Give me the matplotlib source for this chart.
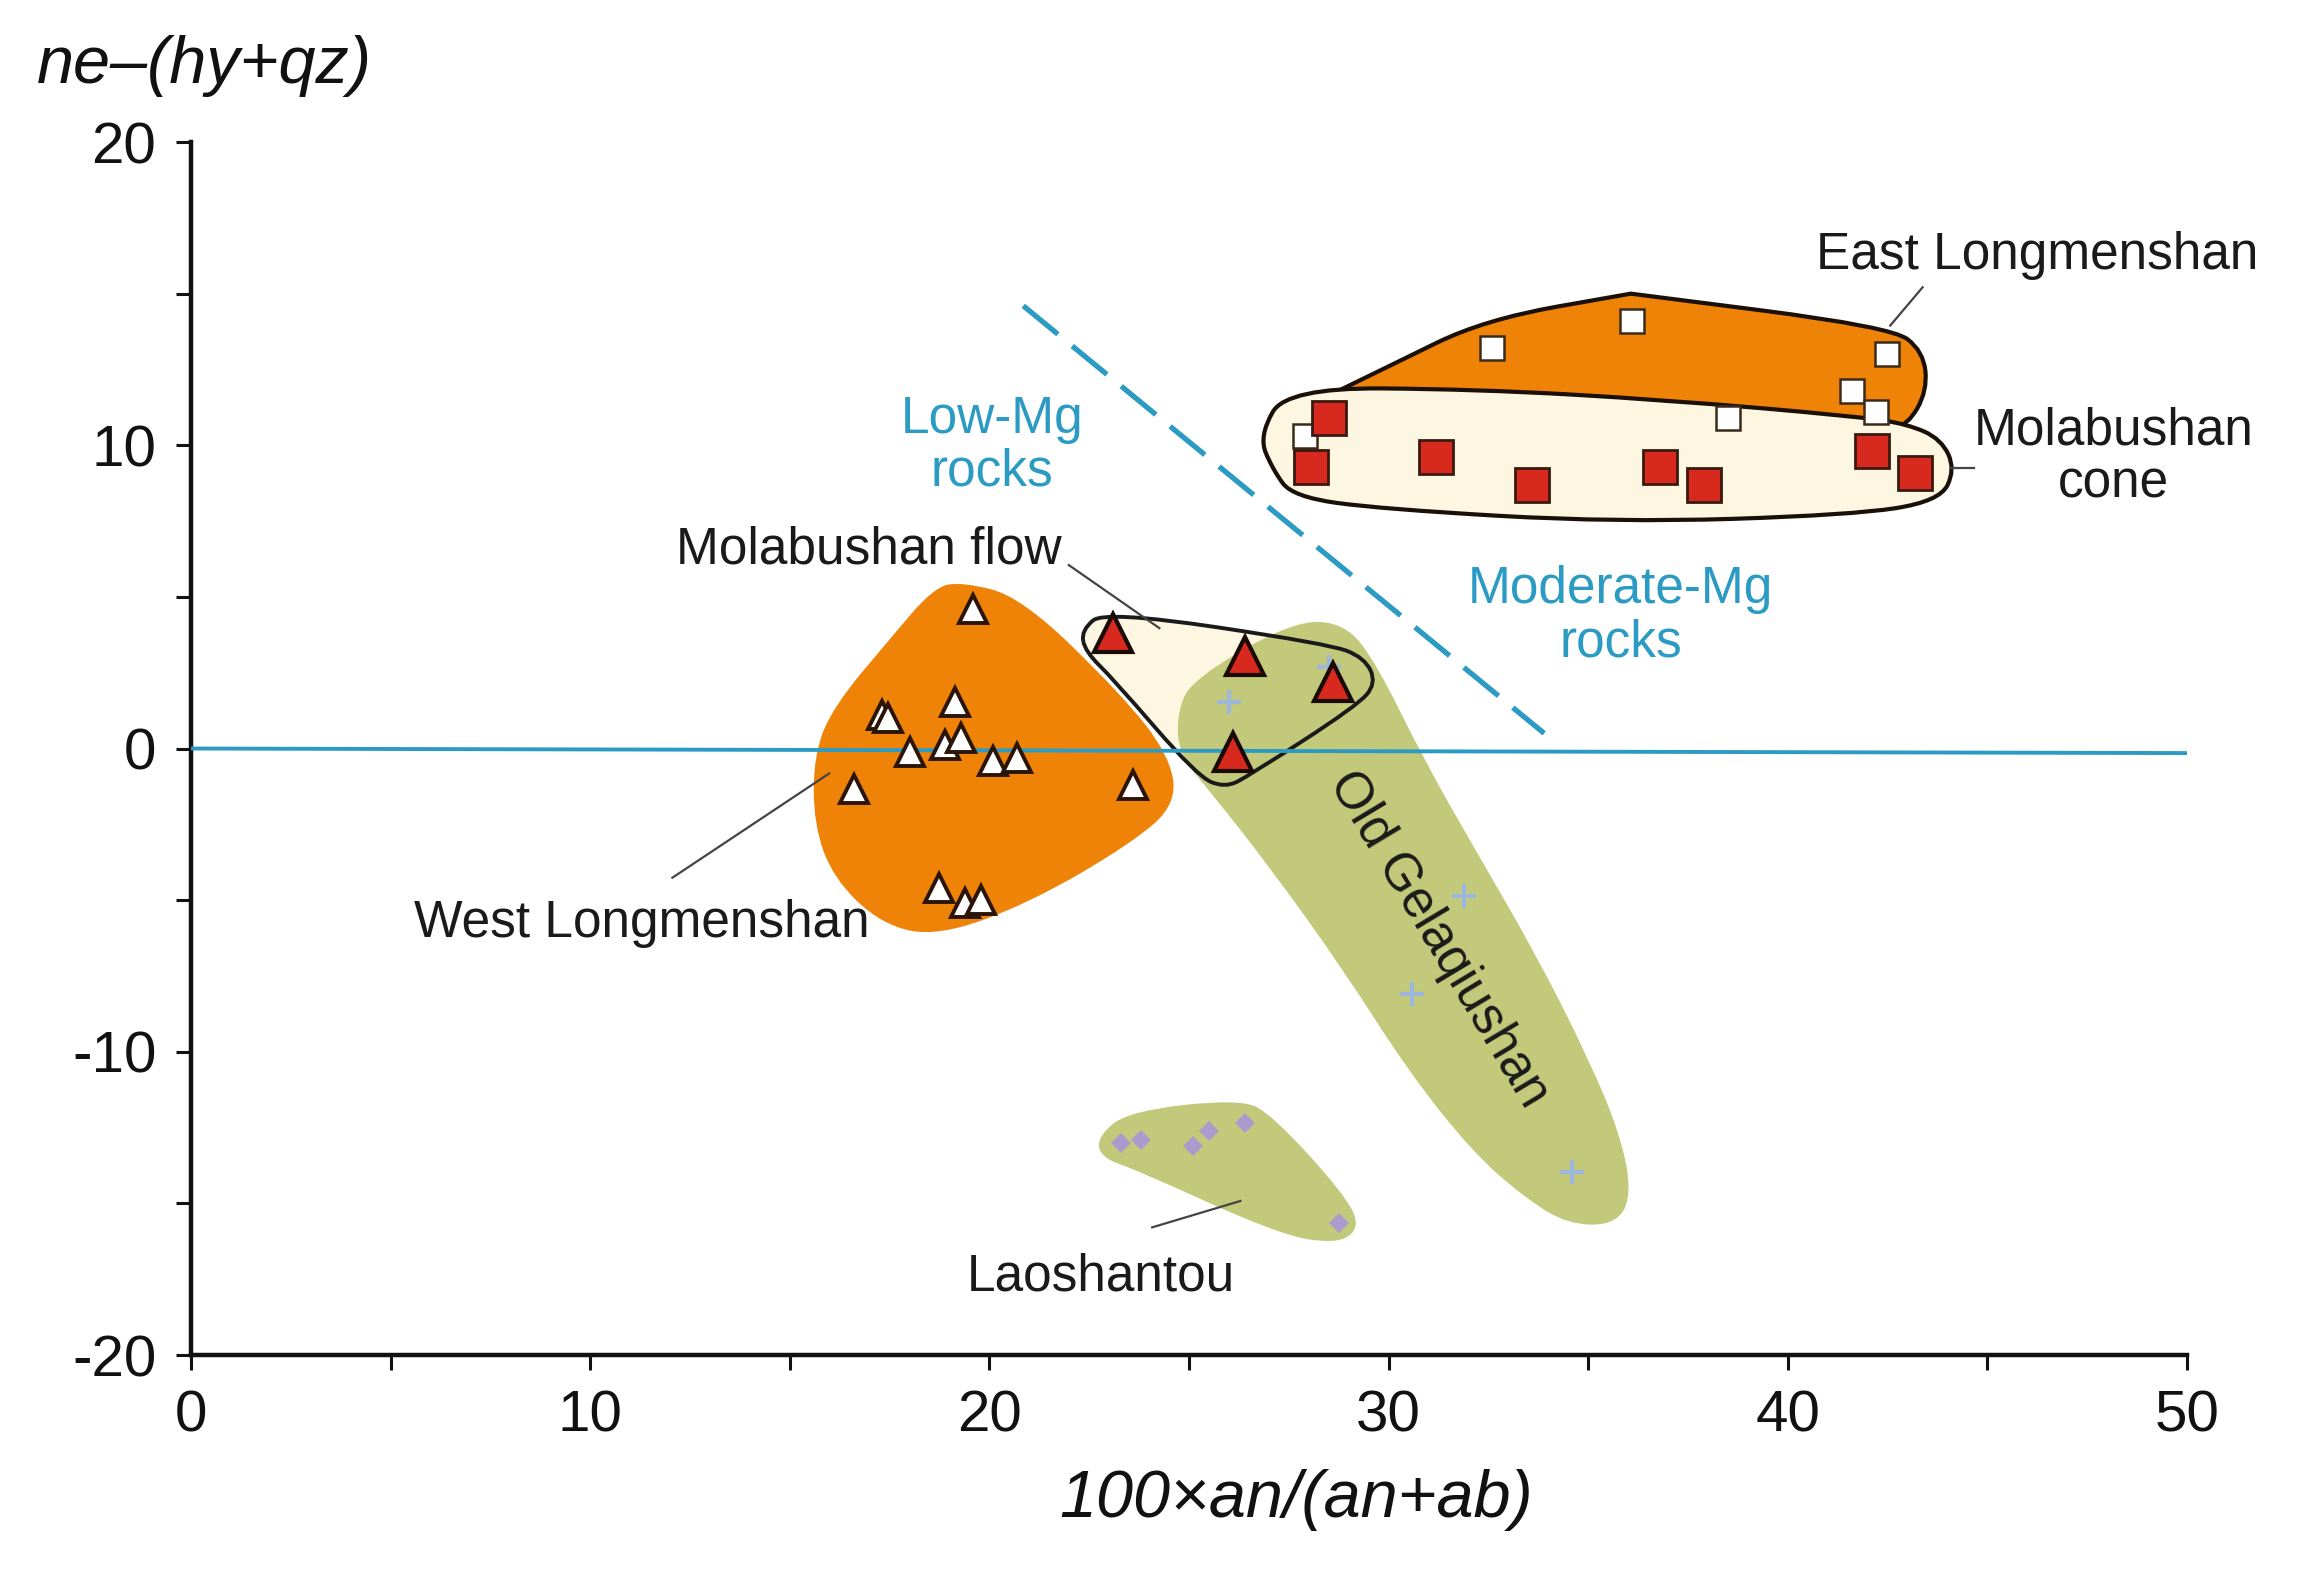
import numpy as np
import matplotlib
matplotlib.use("Agg")
import matplotlib.pyplot as plt
from matplotlib.path import Path
from matplotlib.patches import PathPatch

plt.rcParams["font.family"] = ["Liberation Sans", "DejaVu Sans"]

# --- sample points -------------------------------------------------------
east_x = [32.6, 36.1, 42.5, 41.6, 42.2, 38.5, 27.9]
east_y = [13.2, 14.1, 13.0, 11.8, 11.1, 10.9, 10.3]

cone_x = [28.5, 28.05, 31.2, 33.6, 36.8, 37.9, 42.1, 43.2]
cone_y = [10.9, 9.3, 9.6, 8.7, 9.3, 8.7, 9.8, 9.1]

west_x = [19.6, 17.3, 17.45, 19.15, 18.0, 18.9, 19.3, 20.1, 20.7, 16.6, 23.6, 18.75, 19.4, 19.8]
west_y = [4.6, 1.1, 1.0, 1.55, -0.1, 0.1, 0.35, -0.4, -0.3, -1.35, -1.2, -4.6, -5.1, -5.0]

flow_x = [23.1, 26.4, 28.6, 26.1]
flow_y = [3.8, 3.05, 2.2, -0.1]

gela_x = [26.0, 28.5, 31.9, 30.6, 34.6]
gela_y = [1.55, 2.7, -4.85, -8.1, -13.95]

lao_x = [23.3, 23.8, 25.1, 25.5, 26.4, 28.75]
lao_y = [-13.0, -12.9, -13.1, -12.6, -12.35, -15.65]

# --- field outlines (data units) ----------------------------------------
east_field_x = [26.85, 27.5, 30.0, 32.4, 36.07, 36.07, 42.6, 43.4, 43.5, 43.0, 42.4,
                36.9, 32.2, 28.0, 27.1]
east_field_y = [10.2, 11.0, 12.6, 14.15, 15.0, 15.0, 13.9, 13.1, 11.8, 10.65, 10.55,
                11.3, 11.6, 11.7, 11.0]

cone_field_x = [26.75, 27.45, 32.2, 36.9, 41.75, 43.0, 43.85, 44.2, 43.8, 41.6,
                35.7, 29.8, 27.6, 27.1]
cone_field_y = [10.3, 11.9, 11.85, 11.5, 10.95, 10.7, 10.2, 9.2, 8.15, 7.7,
                7.45, 7.9, 8.3, 9.2]

west_field_x = [19.3, 20.8, 23.3, 24.5, 24.7, 23.6, 21.0, 18.7, 17.3, 16.1, 15.6, 15.6, 16.1, 17.5, 18.6]
west_field_y = [5.5, 5.0, 1.8, -0.2, -1.8, -3.1, -5.1, -6.2, -5.8, -4.3, -2.5, -0.2, 1.4, 3.6, 5.3]

flow_field_x = [22.3, 22.9, 28.5, 29.4, 29.7, 29.2, 26.5, 25.9, 25.2, 23.1, 22.4]
flow_field_y = [3.9, 4.55, 3.45, 3.0, 2.15, 1.4, -0.9, -1.3, -0.9, 2.3, 3.2]

gela_field_x = [24.7, 25.1, 27.6, 28.9, 29.7, 30.9, 32.2, 33.7, 35.0, 35.8, 36.1,
                35.7, 34.5, 33.4, 32.1, 30.5, 28.85, 27.0, 25.55, 24.75]
gela_field_y = [1.2, 2.3, 4.2, 4.15, 2.8, -0.4, -3.4, -6.8, -10.2, -12.7, -14.7,
                -15.7, -15.7, -14.8, -13.3, -10.65, -7.26, -3.87, -1.45, -0.2]

lao_field_x = [22.7, 23.5, 26.3, 27.1, 28.9, 29.3, 28.7, 27.2, 23.7, 22.8]
lao_field_y = [-12.8, -11.95, -11.55, -12.1, -14.7, -15.8, -16.35, -16.0, -13.9, -13.5]

# --- guide lines ---------------------------------------------------------
zero_line_x = [0, 50]
zero_line_y = [0.0, -0.15]
mg_line_x = [20.85, 33.9]
mg_line_y = [14.6, 0.5]

TEAL = "#2b9bc4"
ORANGE = "#ef8307"
CREAM = "#fdf7e1"
OLIVE = "#c2c97a"
RED = "#d8291f"


def smooth_patch(xs, ys, **kwargs):
    pts = np.column_stack([xs, ys])
    mids = (pts + np.roll(pts, -1, axis=0)) / 2
    verts = [mids[-1]]
    codes = [Path.MOVETO]
    for i in range(len(pts)):
        verts += [pts[i], mids[i]]
        codes += [Path.CURVE3, Path.CURVE3]
    return PathPatch(Path(verts, codes), **kwargs)


fig = plt.figure(figsize=(23.01, 15.80), dpi=100)
ax = fig.add_axes([0.0830, 0.1424, 0.8674, 0.7677])

ax.add_patch(smooth_patch(east_field_x, east_field_y, facecolor=ORANGE,
                          edgecolor="#1a1008", linewidth=3.0, zorder=1))
ax.add_patch(smooth_patch(cone_field_x, cone_field_y, facecolor=CREAM,
                          edgecolor="#1a1008", linewidth=3.0, zorder=2))
ax.add_patch(smooth_patch(west_field_x, west_field_y, facecolor=ORANGE,
                          edgecolor="none", zorder=1))
ax.add_patch(smooth_patch(flow_field_x, flow_field_y, facecolor=CREAM,
                          edgecolor="none", zorder=1))
ax.add_patch(smooth_patch(gela_field_x, gela_field_y, facecolor=OLIVE,
                          edgecolor="none", zorder=1.5))
ax.add_patch(smooth_patch(flow_field_x, flow_field_y, facecolor="none",
                          edgecolor="#1a1a1a", linewidth=2.8, zorder=2))
ax.add_patch(smooth_patch(lao_field_x, lao_field_y, facecolor=OLIVE,
                          edgecolor="none", zorder=1))

ax.plot(zero_line_x, zero_line_y, color=TEAL, linewidth=2.8, zorder=3)
ax.plot(mg_line_x, mg_line_y, color=TEAL, linewidth=3.8, dashes=(8.5, 3.5), zorder=3)

ax.plot(east_x, east_y, "s", markersize=17, markerfacecolor="white",
        markeredgecolor="#3a2a1a", markeredgewidth=1.8, zorder=4)
ax.plot(cone_x, cone_y, "s", markersize=24, markerfacecolor=RED,
        markeredgecolor="#3a1a10", markeredgewidth=2.0, zorder=5)
ax.plot(west_x, west_y, "^", markersize=20, markerfacecolor="white",
        markeredgecolor="#2a1508", markeredgewidth=2.8, zorder=4)
ax.plot(flow_x, flow_y, "^", markersize=28, markerfacecolor=RED,
        markeredgecolor="#1a0a05", markeredgewidth=3.0, zorder=5)
ax.plot(gela_x, gela_y, "+", markersize=17, color="#9db6dc",
        markeredgewidth=3.0, zorder=4)
ax.plot(lao_x, lao_y, "D", markersize=10, color="#a99bcc",
        markeredgewidth=0, zorder=4)

label_font = dict(fontsize=37, color="#1a1a1a", ha="center", va="center")
ax.text(46.25, 16.27, "East Longmenshan", **label_font)
ax.text(48.16, 9.59, "Molabushan\ncone", linespacing=1.1, **label_font)
ax.text(16.99, 6.54, "Molabushan flow", **label_font)
ax.text(11.29, -5.76, "West Longmenshan", **label_font)
ax.text(22.79, -17.43, "Laoshantou", **label_font)
ax.text(31.25, -6.3, "Old Gelaqiushan", rotation=-59, rotation_mode="anchor",
        **label_font)
ax.text(20.07, 9.98, "Low-Mg\nrocks", fontsize=37, color=TEAL, ha="center",
        va="center", linespacing=1.1)
ax.text(35.81, 4.36, "Moderate-Mg\nrocks", fontsize=37, color=TEAL, ha="center",
        va="center", linespacing=1.1)

leaders = [
    ([43.38, 42.57], [15.21, 13.95]),
    ([44.1, 44.67], [9.25, 9.25]),
    ([21.99, 24.26], [6.05, 3.97]),
    ([12.06, 15.99], [-4.26, -0.82]),
    ([24.08, 26.29], [-15.79, -14.92]),
]
for lx, ly in leaders:
    ax.plot(lx, ly, color="#444444", linewidth=1.6, zorder=3)

ax.set_xlim(0, 50)
ax.set_ylim(-20, 20)
ax.set_xticks(np.arange(0, 51, 5))
ax.set_xticklabels(["0", "", "10", "", "20", "", "30", "", "40", "", "50"])
ax.set_yticks(np.arange(-20, 21, 5))
ax.set_yticklabels(["-20", "", "-10", "", "0", "", "10", "", "20"])
ax.tick_params(labelsize=42, length=11, width=2.2, direction="out", pad=14,
               colors="#111111")
ax.spines[["top", "right"]].set_visible(False)
for side in ("left", "bottom"):
    ax.spines[side].set_linewidth(3.2)
    ax.spines[side].set_color("#111111")

fig.text(37 / 2301, 1 - 66 / 1580, "ne\u2013(hy+qz)", fontsize=48, style="italic",
         ha="left", va="center", color="#111111")
fig.text(1296 / 2301, 1 - 1500 / 1580, "100\u00d7an/(an+ab)", fontsize=48,
         style="italic", ha="center", va="center", color="#111111")

fig.savefig("out.png", dpi=100)
